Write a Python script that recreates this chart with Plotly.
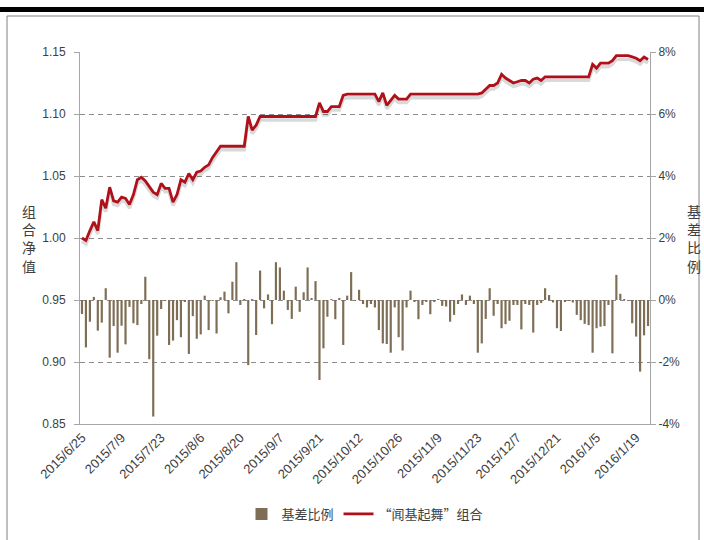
import pandas as pd
import plotly.graph_objects as go

# ---- data ----
tick_labels = ["2015/6/25", "2015/7/9", "2015/7/23", "2015/8/6", "2015/8/20", "2015/9/7",
               "2015/9/21", "2015/10/12", "2015/10/26", "2015/11/9", "2015/11/23",
               "2015/12/7", "2015/12/21", "2016/1/5", "2016/1/19"]

holidays = ["2015-09-03", "2015-09-04", "2015-10-01", "2015-10-02", "2015-10-05",
            "2015-10-06", "2015-10-07", "2016-01-01"]
_days = pd.bdate_range("2015-06-25", "2016-01-22")
_days = [d for d in _days if d.strftime("%Y-%m-%d") not in holidays]
dates = [f"{d.year}/{d.month}/{d.day}" for d in _days]

nav = [
    1.000, 0.998, 1.006, 1.013, 1.006, 1.031, 1.024, 1.041, 1.030, 1.029,
    1.033, 1.032, 1.027, 1.035, 1.047, 1.049, 1.046, 1.041, 1.037, 1.035,
    1.044, 1.040, 1.040, 1.029, 1.035, 1.047, 1.045, 1.052, 1.047, 1.053,
    1.054, 1.057, 1.059, 1.065, 1.070, 1.074, 1.074, 1.074, 1.074, 1.074,
    1.074, 1.074, 1.098, 1.087, 1.091, 1.098, 1.098, 1.098, 1.098, 1.098,
    1.098, 1.098, 1.098, 1.098, 1.098, 1.098, 1.098, 1.098, 1.098, 1.098,
    1.109, 1.102, 1.102, 1.106, 1.106, 1.106, 1.115, 1.116, 1.116, 1.116,
    1.116, 1.116, 1.116, 1.116, 1.116, 1.110, 1.117, 1.107, 1.111, 1.115,
    1.112, 1.112, 1.112, 1.116, 1.116, 1.116, 1.116, 1.116, 1.116, 1.116,
    1.116, 1.116, 1.116, 1.116, 1.116, 1.116, 1.116, 1.116, 1.116, 1.116,
    1.116, 1.117, 1.120, 1.123, 1.123, 1.125, 1.132, 1.129, 1.127, 1.125,
    1.126, 1.127, 1.127, 1.125, 1.128, 1.129, 1.127, 1.130, 1.130, 1.130,
    1.130, 1.130, 1.130, 1.130, 1.130, 1.130, 1.130, 1.130, 1.130, 1.140,
    1.137, 1.141, 1.141, 1.141, 1.143, 1.147, 1.147, 1.147, 1.147, 1.146,
    1.145, 1.143, 1.146, 1.144,
]

basis_pct = [
    -0.45, -1.53, -0.70, 0.10, -0.99, -0.73, 0.38, -1.86, -0.84, -1.70,
    -0.83, -1.43, -0.22, -0.75, -0.81, -0.13, 0.75, -1.91, -3.76, -1.15,
    -0.29, -0.03, -1.45, -1.31, -0.65, -1.20, -0.05, -1.74, -0.52, -1.25,
    -1.11, 0.14, -0.97, -0.03, -1.08, 0.09, 0.27, -0.43, 0.59, 1.22,
    -0.16, 0.02, -2.10, 0.03, -1.13, 0.95, -0.27, 0.18, -0.78, 1.22,
    1.05, 0.30, -0.32, -0.61, 0.43, -0.38, 0.25, 1.05, 0.05, 0.61,
    -2.58, -1.56, -0.54, 0.03, -0.62, 0.05, -1.45, 0.14, 0.90, -0.03,
    0.33, -0.13, -0.24, -0.13, -0.24, -0.97, -1.40, -1.42, -1.70, -0.24,
    -1.20, -1.63, -0.24, 0.30, -0.05, -0.62, -0.16, -0.05, -0.46, -0.05,
    0.02, -0.19, -0.21, -0.70, -0.48, -0.13, 0.18, -0.16, 0.14, -0.13,
    -1.70, -1.40, -0.61, 0.38, -0.51, -0.13, -0.91, -0.78, -0.67, -0.16,
    -0.16, -0.95, -0.13, -0.16, -1.05, -0.16, -0.10, 0.38, 0.16, -0.08,
    -0.91, -1.00, -0.05, -0.02, -0.08, -0.48, -0.65, -0.77, -0.81, -1.70,
    -0.91, -0.86, -0.84, -0.16, -1.72, 0.81, 0.20, 0.03, -0.02, -0.75,
    -1.18, -2.31, -1.14, -0.84,
]

left_ticks = [0.85, 0.90, 0.95, 1.00, 1.05, 1.10, 1.15]
right_ticks = [-4, -2, 0, 2, 4, 6, 8]
right_tick_text = ["-4%", "-2%", "0%", "2%", "4%", "6%", "8%"]

BAR_COLOR = "#7E6E55"
LINE_COLOR = "#B0101A"
TEXT = "#404040"
AXIS = "#A6A6A6"
FONT = "Liberation Sans"
CJK = "Noto Sans CJK SC"

NAV_RANGE = [0.85, 1.15]
SHADOW_DY = 0.0028   # ~3.5px drop shadow offset (axis units)

fig = go.Figure()
# bars on the main (right-hand) axis
fig.add_trace(go.Bar(x=dates, y=basis_pct, name="基差比例", yaxis="y",
                     marker=dict(color=BAR_COLOR, line=dict(width=0))))
# soft drop shadow of the portfolio line
fig.add_trace(go.Scatter(x=dates, y=nav, mode="lines", yaxis="y2",
                         line=dict(color="rgba(0,0,0,0.15)", width=3.5),
                         showlegend=False, hoverinfo="skip"))
fig.add_trace(go.Scatter(x=dates, y=nav, name="“闻基起舞”组合", mode="lines",
                         yaxis="y3", line=dict(color=LINE_COLOR, width=2.8)))

n = len(dates)
fig.update_layout(
    width=704, height=540,
    margin=dict(l=80, r=54, t=52, b=116, autoexpand=False),
    paper_bgcolor="white", plot_bgcolor="white",
    font=dict(family=FONT, size=12, color=TEXT),
    bargap=0.45,
    showlegend=True,
    legend=dict(orientation="h", x=0.5, xanchor="center", y=-0.242, yanchor="middle",
                font=dict(size=13, color=TEXT, family=CJK), traceorder="normal",
                itemwidth=30),
    xaxis=dict(type="category", categoryorder="array", categoryarray=dates,
               tickmode="array", tickvals=tick_labels, ticktext=tick_labels,
               tickangle=-45, showgrid=False, showline=True, linecolor=AXIS,
               linewidth=1, ticks="", tickfont=dict(size=13, color=TEXT),
               range=[-0.5, n - 0.5], automargin=False),
    yaxis=dict(range=[-4, 8], side="right", tickmode="array",
               tickvals=right_ticks, ticktext=right_tick_text, showgrid=False,
               showline=True, linecolor=AXIS, linewidth=1, ticks="outside",
               ticklen=5, tickcolor=AXIS, zeroline=False,
               tickfont=dict(size=12, color=TEXT), automargin=False),
    yaxis2=dict(range=[NAV_RANGE[0] + SHADOW_DY, NAV_RANGE[1] + SHADOW_DY],
                overlaying="y", visible=False),
    yaxis3=dict(range=NAV_RANGE, overlaying="y", side="left", tickmode="array",
                tickvals=left_ticks, tickformat=".2f", showgrid=True,
                gridcolor="#8C8C8C", griddash="5px,4px", gridwidth=1,
                showline=True, linecolor=AXIS, linewidth=1, ticks="outside",
                ticklen=5, tickcolor=AXIS, zeroline=False, ticklabelstandoff=6,
                tickfont=dict(size=12, color=TEXT), automargin=False),
)

fig.add_annotation(text="组<br>合<br>净<br>值", xref="paper", yref="paper",
                   x=-0.0895, y=0.5, xanchor="center", showarrow=False,
                   font=dict(size=14, color=TEXT, family=CJK))
fig.add_annotation(text="基<br>差<br>比<br>例", xref="paper", yref="paper",
                   x=1.077, y=0.5, xanchor="center", showarrow=False,
                   font=dict(size=14, color=TEXT, family=CJK))

# frame and top rule
fig.add_shape(type="rect", xref="paper", yref="paper",
              x0=(7 - 80) / 570, x1=(699 - 80) / 570,
              y0=(424 - 560) / 372, y1=(424 - 16) / 372,
              line=dict(color="#808080", width=1), layer="below")
fig.add_shape(type="rect", xref="paper", yref="paper",
              x0=-80 / 570, x1=(704 - 80) / 570,
              y0=(424 - 12) / 372, y1=(424 - 7) / 372,
              line=dict(width=0), fillcolor="black")

fig.write_html("out.html", config={"displayModeBar": False},
               post_script="document.body.style.margin='0px';"
                           "document.body.style.overflow='hidden';")
